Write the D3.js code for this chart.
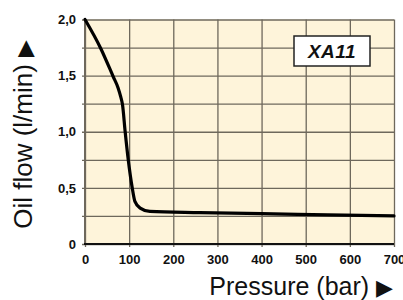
<!DOCTYPE html>
<html>
<head>
<meta charset="utf-8">
<script src="https://cdn.jsdelivr.net/npm/d3@7"></script>
<style>
  html, body { margin: 0; padding: 0; background: #fff; }
  svg { display: block; font-family: "Liberation Sans", Arial, sans-serif; }
</style>
</head>
<body>
<div id="chart"></div>
<script>
'use strict';

// curve: pressure (bar) -> oil flow (l/min)
const pressure = [0, 36, 64, 75, 81, 85, 91, 98, 107, 113, 125, 147, 260, 400, 550, 700];
const flow = [2.0, 1.74, 1.49, 1.39, 1.31, 1.24, 1.0, 0.75, 0.5, 0.38, 0.32, 0.29, 0.28, 0.27, 0.26, 0.25];

const xTicks = [0, 100, 200, 300, 400, 500, 600, 700];
const yTicks = [0, 0.25, 0.5, 0.75, 1.0, 1.25, 1.5, 1.75, 2.0];
const yLabelled = [0, 0.5, 1.0, 1.5, 2.0];

const modelName = "XA11";
const xTitle = "Pressure (bar)";
const yTitle = "Oil flow (l/min)";

const width = 403, height = 300;
const margin = {top: 19.5, right: 9, bottom: 56, left: 85};
const plotW = width - margin.left - margin.right;
const plotH = height - margin.top - margin.bottom;
const gridColor = "#6e685c";

const svg = d3.select("#chart").append("svg")
    .attr("width", width)
    .attr("height", height);

const x = d3.scaleLinear().domain([0, 700]).range([0, plotW]);
const y = d3.scaleLinear().domain([0, 2]).range([plotH, 0]);

const plot = svg.append("g")
    .attr("transform", `translate(${margin.left},${margin.top})`);

plot.append("rect")
    .attr("width", plotW)
    .attr("height", plotH)
    .attr("fill", "#fef4da");

const fmt = d => yLabelled.includes(d) ? (d === 0 ? "0" : d.toFixed(1).replace(".", ",")) : "";

// y grid + labels
plot.append("g")
    .attr("class", "y-axis")
    .call(d3.axisLeft(y).tickValues(yTicks).tickSizeInner(-plotW).tickSizeOuter(0).tickPadding(9).tickFormat(fmt))
    .call(g => g.select(".domain").remove())
    .call(g => g.selectAll(".tick line").attr("x1", -3).attr("stroke", gridColor).attr("stroke-width", 1.3))
    .call(g => g.selectAll(".tick text")
        .attr("font-family", "'Liberation Sans', Arial, sans-serif")
        .attr("font-size", 13).attr("font-weight", "bold").attr("fill", "#111"));

// x grid + labels
plot.append("g")
    .attr("class", "x-axis")
    .attr("transform", `translate(0,${plotH})`)
    .call(d3.axisBottom(x).tickValues(xTicks).tickSizeInner(-plotH).tickSizeOuter(0).tickPadding(11).tickFormat(d3.format("d")))
    .call(g => g.select(".domain").remove())
    .call(g => g.selectAll(".tick line").attr("y1", 3).attr("stroke", gridColor).attr("stroke-width", 1.3))
    .call(g => g.selectAll(".tick text")
        .attr("font-family", "'Liberation Sans', Arial, sans-serif")
        .attr("font-size", 13).attr("font-weight", "bold").attr("fill", "#111"));

// left and bottom borders
plot.append("line")
    .attr("x1", 0).attr("x2", 0).attr("y1", 0).attr("y2", plotH)
    .attr("stroke", gridColor).attr("stroke-width", 2);
plot.append("line")
    .attr("x1", -1).attr("x2", plotW).attr("y1", plotH).attr("y2", plotH)
    .attr("stroke", "#111").attr("stroke-width", 2);

// the curve
const line = d3.line()
    .x((d, i) => x(pressure[i]))
    .y(d => y(d))
    .curve(d3.curveMonotoneX);

plot.append("path")
    .datum(flow)
    .attr("d", line)
    .attr("fill", "none")
    .attr("stroke", "#000")
    .attr("stroke-width", 3.2)
    .attr("stroke-linejoin", "round")
    .attr("stroke-linecap", "round");

// model label box
const box = plot.append("g").attr("transform", `translate(${294 - margin.left},${36 - margin.top})`);
box.append("rect")
    .attr("width", 76).attr("height", 30)
    .attr("fill", "#fff").attr("stroke", "#222").attr("stroke-width", 1.5);
box.append("text")
    .attr("x", 38).attr("y", 21.5)
    .attr("text-anchor", "middle")
    .attr("font-size", 19).attr("font-weight", "bold").attr("font-style", "italic")
    .attr("letter-spacing", 0.5)
    .attr("fill", "#111")
    .text(modelName);

// axis titles
const xt = svg.append("text")
    .attr("x", 393).attr("y", 295)
    .attr("text-anchor", "end")
    .attr("font-size", 25)
    .attr("fill", "#111");
xt.append("tspan").text(xTitle + " ");
xt.append("tspan").attr("font-family", "'DejaVu Sans', sans-serif").attr("font-size", 22).text("▶");

const yt = svg.append("text")
    .attr("transform", "translate(32,40) rotate(-90)")
    .attr("text-anchor", "end")
    .attr("font-size", 26)
    .attr("fill", "#111");
yt.append("tspan").text(yTitle + " ");
yt.append("tspan").attr("font-family", "'DejaVu Sans', sans-serif").attr("font-size", 22).text("▶");
</script>
</body>
</html>
